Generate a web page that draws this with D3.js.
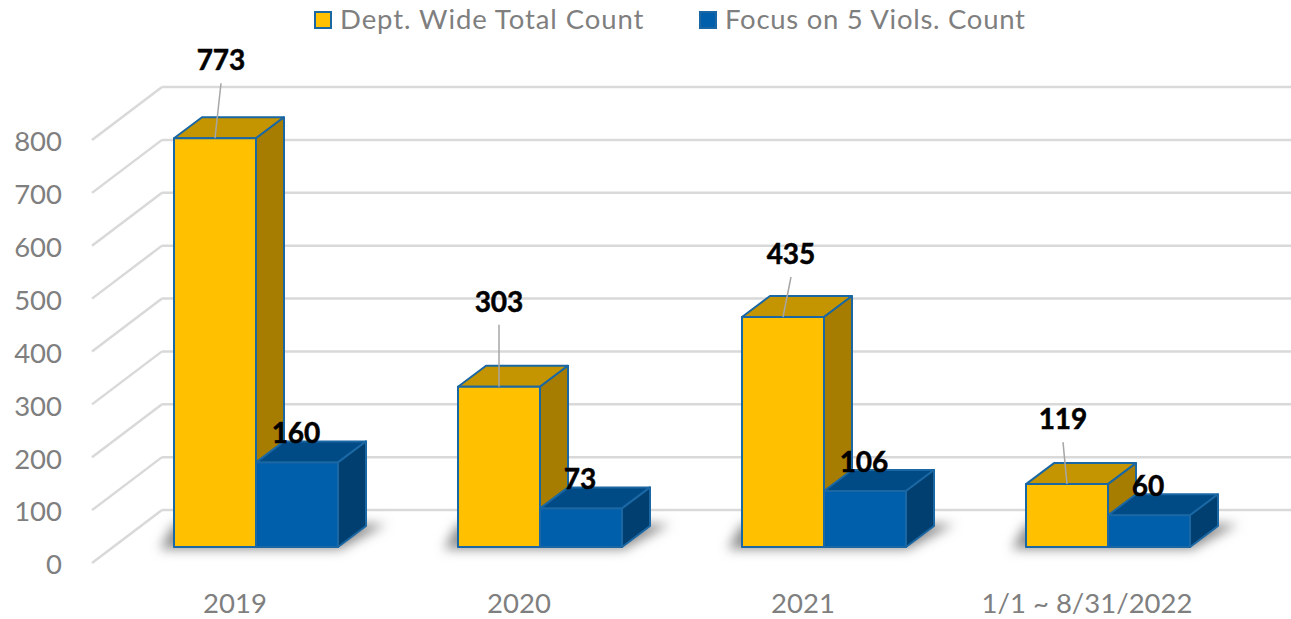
<!DOCTYPE html>
<html>
<head>
<meta charset="utf-8">
<script src="https://d3js.org/d3.v7.min.js"></script>
<style>
    html, body { margin: 0; padding: 0; background: #fff; }
    svg { display: block; }
    text { font-family: Lato, sans-serif; }
</style>
</head>
<body>
<div id="chart"></div>
<script>
const categories = ["2019", "2020", "2021", "1/1 ~ 8/31/2022"];
const seriesNames = ["Dept. Wide Total Count", "Focus on 5 Viols. Count"];
const deptWideTotal = [773, 303, 435, 119];
const focusOnFive = [160, 73, 106, 60];
const yTicks = [0, 100, 200, 300, 400, 500, 600, 700, 800];

// label placement relative to the top front edge of the bar, hand tuned
const totalLabelOffsets = [[6, 78], [0, 85], [8, 63], [-4, 65]];
const focusLabelOffset = [-1, 29];

const width = 1291;
const height = 619;
const depth = { x: 28, y: 21 };
const wallDepth = { x: 70, y: 53 };
const wallShift = 16; // wall front edge sits below the bar base

const colors = [
    { front: "#FFC000", top: "#C49500", side: "#A67D00" },
    { front: "#005FAB", top: "#004A85", side: "#003F70" }
];
const edge = "#1A67A3";

const x = d3.scaleBand().domain(categories).range([92, 1228]);
const xInner = d3.scaleBand().domain(seriesNames).range([82, 246]);
const y = d3.scaleLinear().domain([0, 800]).range([547, 124]);

const svg = d3.select("#chart").append("svg")
    .attr("width", width)
    .attr("height", height);

const defs = svg.append("defs");
defs.append("filter")
    .attr("id", "shadowBlur")
    .attr("x", "-20%").attr("y", "-50%")
    .attr("width", "140%").attr("height", "200%")
    .append("feGaussianBlur")
    .attr("stdDeviation", 6);

function DrawWalls() {
    const gy = d => y(d) + wallShift;

    svg.selectAll("wallLine")
        .data(yTicks)
        .join("line")
        .attr("x1", 92)
        .attr("x2", 92 + wallDepth.x)
        .attr("y1", gy)
        .attr("y2", d => gy(d) - wallDepth.y)
        .attr("stroke", "#D9D9D9")
        .attr("stroke-width", 2.5);

    svg.selectAll("backLine")
        .data(yTicks)
        .join("line")
        .attr("x1", 92 + wallDepth.x)
        .attr("x2", width)
        .attr("y1", d => gy(d) - wallDepth.y)
        .attr("y2", d => gy(d) - wallDepth.y)
        .attr("stroke", "#D9D9D9")
        .attr("stroke-width", 2.5);
}

function DrawAxes() {
    svg.append("g")
        .attr("transform", `translate(64, ${wallShift + 2})`)
        .call(d3.axisLeft(y).tickValues(yTicks).tickSize(0).tickPadding(2))
        .call(g => g.select(".domain").remove())
        .selectAll("text")
        .style("font-size", "27.5px")
        .attr("fill", "#7F7F7F");

    svg.append("g")
        .attr("transform", "translate(1, 593)")
        .call(d3.axisBottom(x).tickSize(0).tickPadding(0))
        .call(g => g.select(".domain").remove())
        .selectAll("text")
        .style("font-size", "27.5px")
        .attr("fill", "#7F7F7F");
}

function DrawShadow(cat) {
    const x0 = x(cat) + xInner.range()[0];
    const x1 = x(cat) + xInner.range()[1];
    const base = y(0);
    const pts = [
        [x0 - 14, base + 2], [x1 + 2, base + 2],
        [x1 + depth.x + 20, base - depth.y - 2], [x0, base - depth.y - 2]
    ];
    svg.append("polygon")
        .attr("points", pts.join(" "))
        .attr("fill", "#8C8C8C")
        .attr("filter", "url(#shadowBlur)");
}

function DrawBar(cat, name, value, c) {
    const left = x(cat) + xInner(name);
    const right = left + xInner.bandwidth();
    const top = y(value);
    const base = y(0);
    const bar = svg.append("g")
        .attr("stroke", edge)
        .attr("stroke-width", 2)
        .attr("stroke-linejoin", "round");

    bar.append("polygon")
        .attr("points", [[left, top], [right, top], [right + depth.x, top - depth.y], [left + depth.x, top - depth.y]].join(" "))
        .attr("fill", c.top);
    bar.append("polygon")
        .attr("points", [[right, top], [right + depth.x, top - depth.y], [right + depth.x, base - depth.y], [right, base]].join(" "))
        .attr("fill", c.side);
    bar.append("rect")
        .attr("x", left)
        .attr("y", top)
        .attr("width", right - left)
        .attr("height", base - top)
        .attr("fill", c.front);
}

function DrawLabels() {
    const addLabel = (px, py, value) => svg.append("text")
        .attr("x", px)
        .attr("y", py)
        .attr("dy", "0.35em")
        .attr("text-anchor", "middle")
        .attr("font-weight", "bold")
        .attr("stroke", "#000")
        .attr("stroke-width", 0.5)
        .style("font-size", "28px")
        .text(value);

    categories.forEach((cat, i) => {
        const cx = x(cat) + xInner(seriesNames[0]) + xInner.bandwidth() / 2;
        const [dx, dy] = totalLabelOffsets[i];
        const top = y(deptWideTotal[i]);

        svg.append("line")
            .attr("x1", cx + dx)
            .attr("x2", cx)
            .attr("y1", top - dy + 23)
            .attr("y2", top)
            .attr("stroke", "#A6A6A6")
            .attr("stroke-width", 1.5);

        addLabel(cx + dx, top - dy, deptWideTotal[i]);

        const fx = x(cat) + xInner(seriesNames[1]) + xInner.bandwidth() / 2;
        addLabel(fx + focusLabelOffset[0], y(focusOnFive[i]) - focusLabelOffset[1], focusOnFive[i]);
    });
}

function DrawLegend() {
    const legendX = [314, 699];
    seriesNames.forEach((name, i) => {
        svg.append("rect")
            .attr("x", legendX[i] + 1)
            .attr("y", 12)
            .attr("width", 16)
            .attr("height", 16)
            .attr("fill", colors[i].front)
            .attr("stroke", edge)
            .attr("stroke-width", 2);

        svg.append("text")
            .attr("x", legendX[i] + 26)
            .attr("y", 19)
            .attr("dy", "0.35em")
            .attr("fill", "#7F7F7F")
            .style("font-size", "27.5px")
            .style("letter-spacing", i === 0 ? "0.93px" : "0.72px")
            .text(name);
    });
}

DrawWalls();
DrawAxes();
categories.forEach(DrawShadow);
categories.forEach((cat, i) => {
    DrawBar(cat, seriesNames[0], deptWideTotal[i], colors[0]);
    DrawBar(cat, seriesNames[1], focusOnFive[i], colors[1]);
});
DrawLabels();
DrawLegend();
</script>
</body>
</html>
